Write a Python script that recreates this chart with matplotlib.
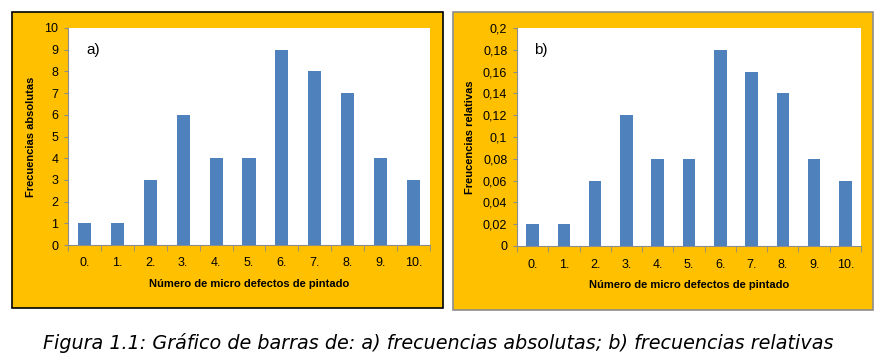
import matplotlib.pyplot as plt
from matplotlib.patches import Rectangle
from matplotlib.ticker import FixedLocator

W, H = 887, 355

categories = ["0.", "1.", "2.", "3.", "4.", "5.", "6.", "7.", "8.", "9.", "10."]
abs_freq = [1, 1, 3, 6, 4, 4, 9, 8, 7, 4, 3]
rel_freq = [0.02, 0.02, 0.06, 0.12, 0.08, 0.08, 0.18, 0.16, 0.14, 0.08, 0.06]
abs_ticks = list(range(0, 11))
rel_ticks = [0, 0.02, 0.04, 0.06, 0.08, 0.1, 0.12, 0.14, 0.16, 0.18, 0.2]
rel_labels = ["0", "0,02", "0,04", "0,06", "0,08", "0,1", "0,12", "0,14",
              "0,16", "0,18", "0,2"]

ORANGE = "#FFC000"
BLUE = "#4F81BD"
FONT = ["Liberation Sans", "DejaVu Sans"]


def px_box(x0, y0, x1, y1):
    return [x0 / W, 1 - y1 / H, (x1 - x0) / W, (y1 - y0) / H]


fig = plt.figure(figsize=(W / 100, H / 100), dpi=100)
fig.patch.set_facecolor("white")

# orange panels behind the axes
for (x0, y0, x1, y1), edge in [((12, 12, 443, 308), "black"),
                                ((453, 12, 873, 310), "#8c8c8c")]:
    fig.patches.append(Rectangle((x0 / W, 1 - y1 / H), (x1 - x0) / W, (y1 - y0) / H,
                                 transform=fig.transFigure, facecolor=ORANGE,
                                 edgecolor=edge, linewidth=1.2, zorder=-5))


def draw(box, values, ticks, ticklabels, ylabel, tag):
    ax = fig.add_axes(px_box(*box))
    ax.set_zorder(2)
    ax.set_facecolor("white")
    x = range(len(categories))
    ax.bar(x, values, width=0.4, color=BLUE, zorder=3)
    ax.set_xlim(-0.5, len(categories) - 0.5)
    ax.set_ylim(ticks[0], ticks[-1])
    ax.set_yticks(ticks)
    ax.set_yticklabels(ticklabels, family=FONT, fontsize=9)
    ax.set_xticks(list(x))
    ax.set_xticklabels(categories, family=FONT, fontsize=9)
    ax.xaxis.set_minor_locator(FixedLocator([i - 0.5 for i in range(len(categories) + 1)]))
    ax.tick_params(axis="x", which="major", length=0, pad=9)
    ax.tick_params(axis="x", which="minor", length=4, color="#8c8c8c", direction="out")
    ax.tick_params(axis="y", length=3, color="#8c8c8c", pad=4)
    for s in ["top", "right"]:
        ax.spines[s].set_visible(False)
    for s in ["left", "bottom"]:
        ax.spines[s].set_color("#8c8c8c")
    ax.set_xlabel("Número de micro defectos de pintado", family=FONT,
                  fontsize=8, fontweight="bold", labelpad=7)
    ax.set_ylabel(ylabel, family=FONT, fontsize=8, fontweight="bold", labelpad=6)
    ax.text(0.05, 0.9, tag, transform=ax.transAxes, family=FONT, fontsize=11,
            va="center", ha="left")
    return ax


draw((68, 28, 430, 245), abs_freq, abs_ticks, [str(t) for t in abs_ticks],
     "Frecuencias absolutas", "a)")
draw((517, 28, 861, 246), rel_freq, rel_ticks, rel_labels,
     "Freucencias relativas", "b)")

fig.text(0.494, 1 - 343 / H,
         "Figura 1.1: Gráfico de barras de: a) frecuencias absolutas; b) frecuencias relativas",
         ha="center", va="center", fontsize=13.8, style="italic", family="DejaVu Sans")

fig.savefig("out.png", dpi=100)
